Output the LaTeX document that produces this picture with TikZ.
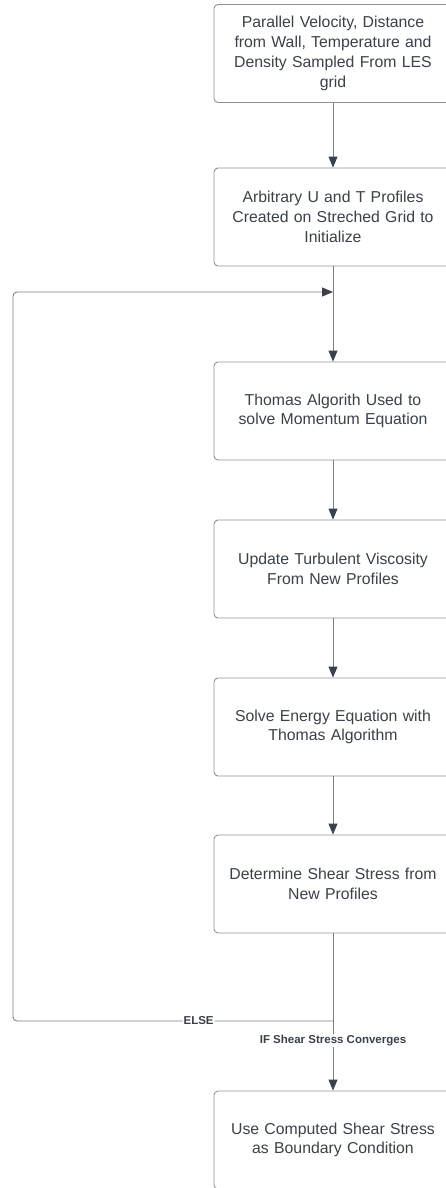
\documentclass[tikz,border=0pt]{standalone}
\usepackage{fontspec}
\setmainfont{Liberation Sans}
\usetikzlibrary{arrows.meta}
\definecolor{linegray}{HTML}{7A7E85}
\definecolor{boxgray}{HTML}{8E9298}
\definecolor{inkdark}{HTML}{3A414A}
\begin{document}
\begin{tikzpicture}[
		x=1pt, y=-1pt,
		font=\fontsize{15.8}{19.8}\selectfont, text=inkdark,
		box/.style={rectangle, draw=boxgray, line width=0.9pt, rounded corners=4pt, minimum width=238pt, minimum height=98pt, align=center, text width=230pt, inner sep=0pt},
		arr/.style={-{Triangle[length=11pt,width=9pt,color=inkdark]}, draw=linegray, line width=0.9pt},
		lbl/.style={font=\fontsize{11.5}{13}\selectfont\bfseries, fill=white, inner sep=1pt}
	]
		\useasboundingbox (0,0) rectangle (446,1188);
		\node[box] (sample) at (333,53.5) {Parallel Velocity, Distance\\from Wall, Temperature and\\Density Sampled From LES\\grid};
		\node[box] (init) at (333,217) {Arbitrary U and T Profiles\\Created on Streched Grid to\\Initialize};
		\node[box] (thomas) at (333,411) {Thomas Algorith Used to\\solve Momentum Equation};
		\node[box] (visc) at (333,569) {Update Turbulent Viscosity\\From New Profiles};
		\node[box] (energy) at (333,727) {Solve Energy Equation with\\Thomas Algorithm};
		\node[box] (shear) at (333,884) {Determine Shear Stress from\\New Profiles};
		\node[box] (bc) at (333,1140) {Use Computed Shear Stress\\as Boundary Condition};
		\coordinate (join) at (333,292);
		\coordinate (split) at (333,1021);
		\draw[arr] (sample) -- (init);
		\draw[arr] (init) -- (thomas);
		\draw[arr] (thomas) -- (visc);
		\draw[arr] (visc) -- (energy);
		\draw[arr] (energy) -- (shear);
		\draw[arr] (shear) -- node[lbl, pos=0.68] (conv) {IF Shear Stress Converges} (bc);
		\draw[arr, rounded corners=4pt] (split) -- node[lbl, pos=0.42] (else) {ELSE} (13,1021) -- (13,292) -- (join);
	\end{tikzpicture}
\end{document}
